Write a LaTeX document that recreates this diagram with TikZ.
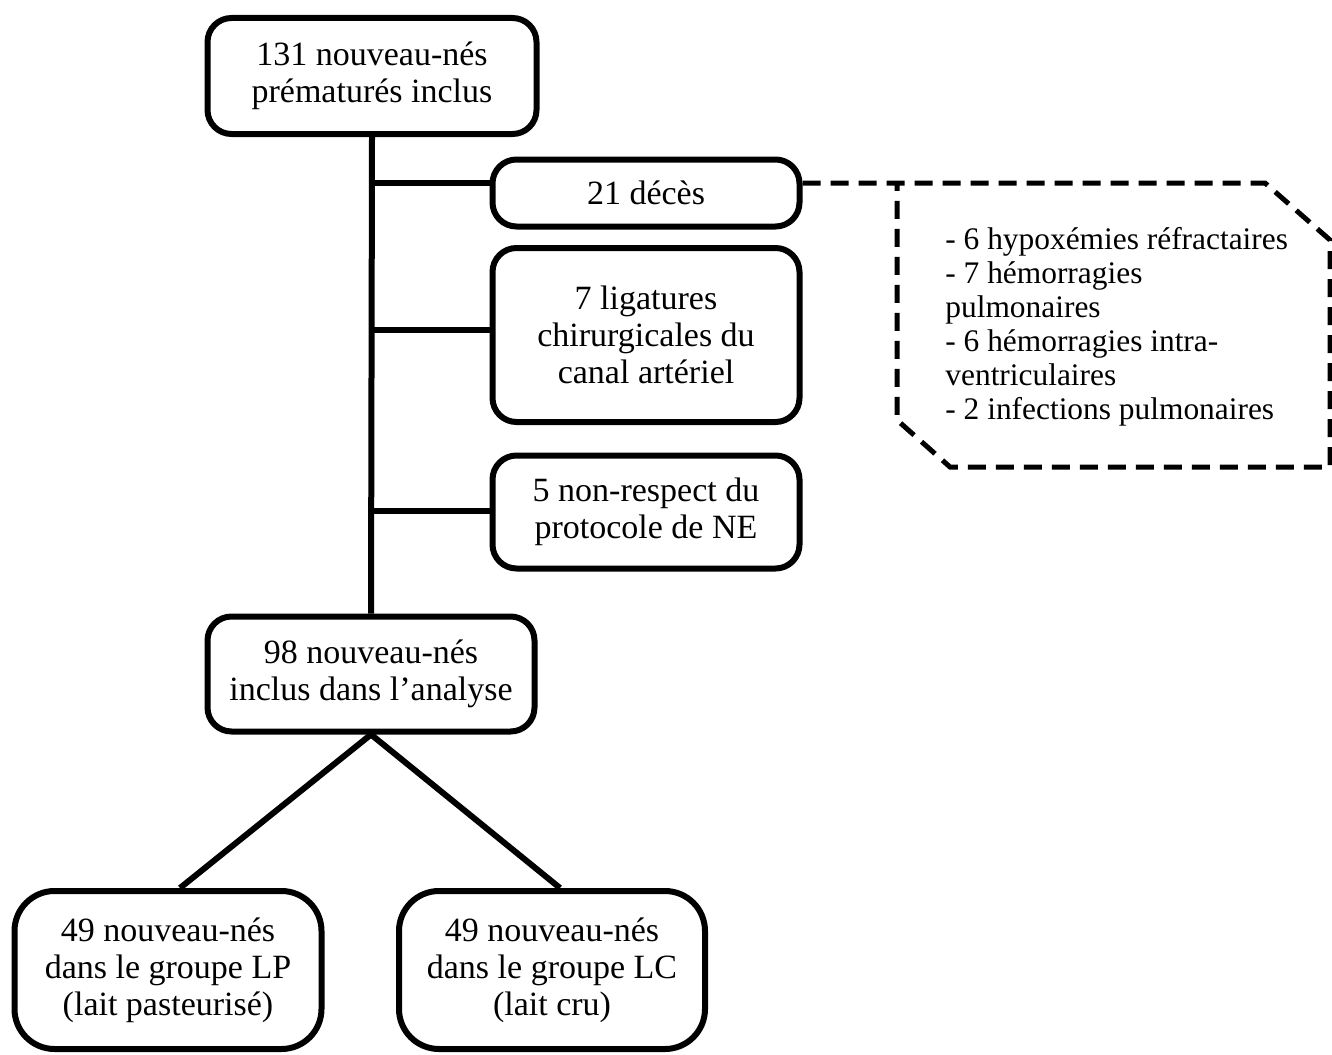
\documentclass[tikz,border=0pt]{standalone}
\usepackage{fontspec}
\setmainfont{Liberation Serif}
\usetikzlibrary{positioning}

\tikzset{
  boite/.style={draw, line width=3pt, rounded corners=12pt, align=center,
    inner sep=0pt, font=\fontsize{17}{18.5}\selectfont},
  trait/.style={line width=3pt},
  pointille/.style={line width=2.5pt, dash pattern=on 9pt off 5pt}
}

\begin{document}
\begin{tikzpicture}[x=0.5pt,y=-0.5pt]
	\useasboundingbox (0,0) rectangle (1332,1054);
	% boites principales
	\node[boite, minimum width=164.5pt, minimum height=58pt] (debut) at (372,76) {131 nouveau-nés\\prématurés inclus};
	\node[boite, minimum width=153.5pt, minimum height=33.5pt] (deces) at (646,193) {21 décès};
	\node[boite, minimum width=153.5pt, minimum height=87pt] (ligature) at (646,335) {7 ligatures\\chirurgicales du\\canal artériel};
	\node[boite, minimum width=153.5pt, minimum height=56.5pt] (protocole) at (646,512) {5 non-respect du\\protocole de NE};
	\node[boite, minimum width=163.5pt, minimum height=57.5pt] (analyse) at (371,674) {98 nouveau-nés\\inclus dans l’analyse};
	\node[boite, rounded corners=20pt, minimum width=153.5pt, minimum height=79pt] (groupeLP) at (168,970) {49 nouveau-nés\\dans le groupe LP\\(lait pasteurisé)};
	\node[boite, rounded corners=20pt, minimum width=153pt, minimum height=79pt] (groupeLC) at (552,970) {49 nouveau-nés\\dans le groupe LC\\(lait cru)};
	% tronc et branches
	\coordinate (b1) at (372,183);
	\coordinate (b2) at (372,330);
	\coordinate (b3) at (372,511);
	\draw[trait] (debut.south) -- (analyse.north);
	\draw[trait] (b1) -- (b1 -| deces.west);
	\draw[trait] (b2) -- (b2 -| ligature.west);
	\draw[trait] (b3) -- (b3 -| protocole.west);
	\draw[trait] (analyse.south) -- ([xshift=6pt]groupeLP.north);
	\draw[trait] (analyse.south) -- ([xshift=4pt]groupeLC.north);
	% causes des deces
	\draw[pointille] (b1 -| deces.east) -- (1265,183) -- (1330,240) -- (1330,467) -- (950,467) -- (897,420) -- (897,183);
	\node[anchor=north west, align=left, inner sep=0pt, font=\fontsize{15.7}{17}\selectfont] (causes) at (945,227)
		{- 6 hypoxémies réfractaires\\- 7 hémorragies\\pulmonaires\\- 6 hémorragies intra-\\ventriculaires\\- 2 infections pulmonaires};
\end{tikzpicture}
\end{document}
